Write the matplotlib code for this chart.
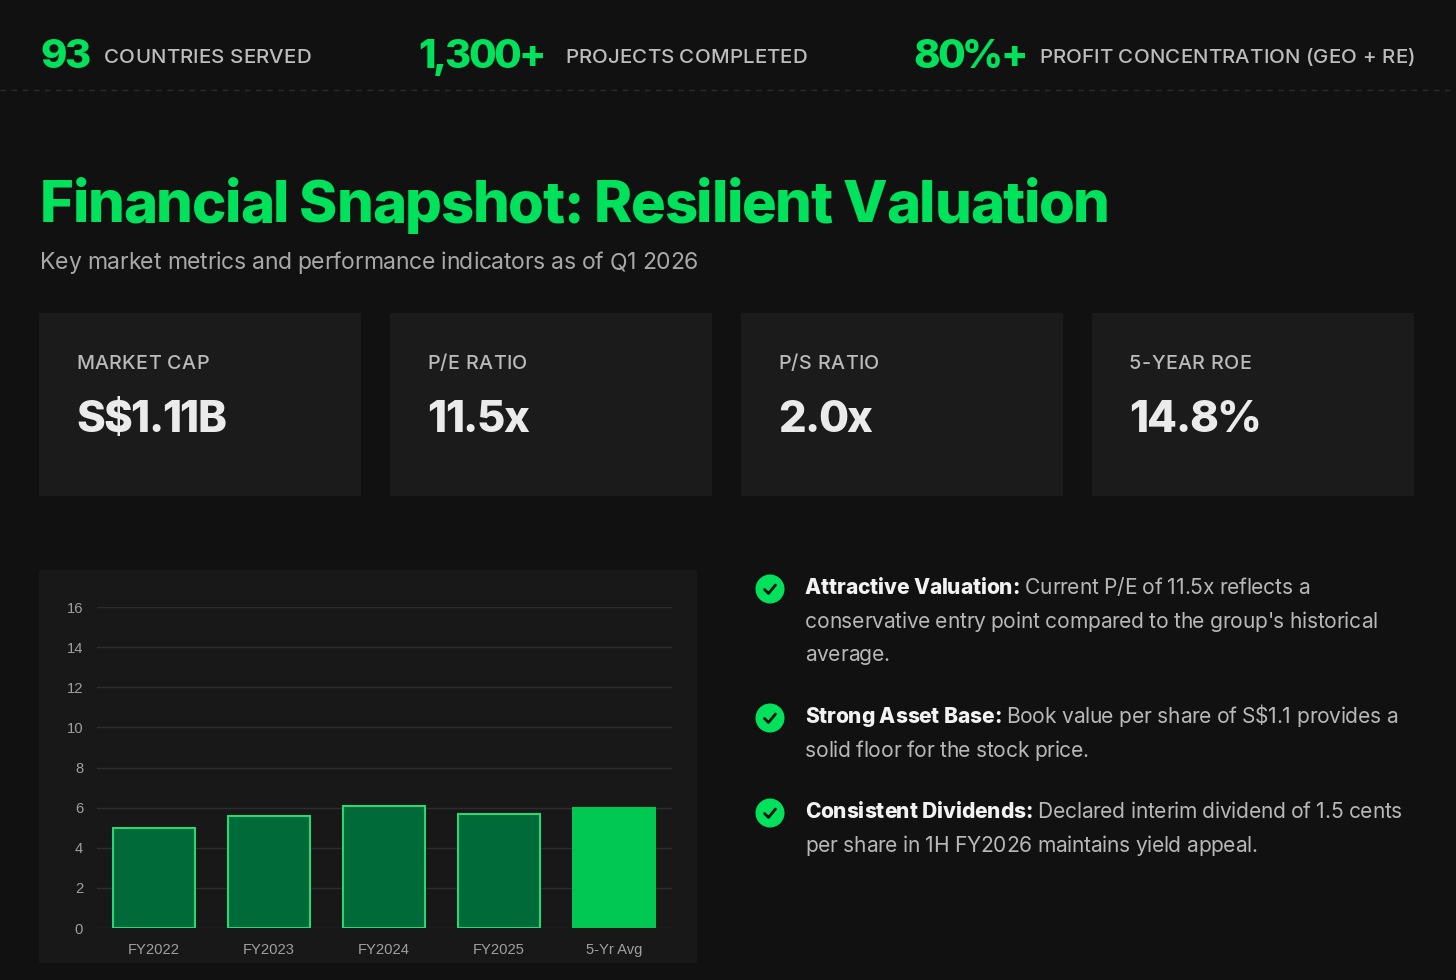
import matplotlib
matplotlib.use('Agg')
import matplotlib.pyplot as plt
from matplotlib.font_manager import findfont, FontProperties
from matplotlib.ft2font import FT2Font
from matplotlib.patches import Rectangle, Circle
from matplotlib.lines import Line2D

W, H, DPI = 1456, 980, 100

# ---- data ----
stat_values = ['93', '1,300+', '80%+']
stat_labels = ['COUNTRIES SERVED', 'PROJECTS COMPLETED', 'PROFIT CONCENTRATION (GEO + RE)']
title = 'Financial Snapshot: Resilient Valuation'
subtitle = 'Key market metrics and performance indicators as of Q1 2026'
card_labels = ['MARKET CAP', 'P/E RATIO', 'P/S RATIO', '5-YEAR ROE']
card_values = ['S$1.11B', '11.5x', '2.0x', '14.8%']
periods = ['FY2022', 'FY2023', 'FY2024', 'FY2025', '5-Yr Avg']
values = [5.0, 5.6, 6.1, 5.7, 6.0]
y_ticks = [0, 2, 4, 6, 8, 10, 12, 14, 16]
bullet_heads = ['Attractive Valuation:', 'Strong Asset Base:', 'Consistent Dividends:']
bullet_lines = [
    ['Current P/E of 11.5x reflects a',
     "conservative entry point compared to the group's historical",
     'average.'],
    ['Book value per share of S$1.1 provides a',
     'solid floor for the stock price.'],
    ['Declared interim dividend of 1.5 cents',
     'per share in 1H FY2026 maintains yield appeal.'],
]

# ---- colours ----
BG = '#111111'
GREEN = '#00e25b'
CARD = '#1b1b1b'
PANEL = '#181818'

fig = plt.figure(figsize=(W / DPI, H / DPI), dpi=DPI, facecolor=BG)
bg = fig.add_axes([0, 0, 1, 1], zorder=0)
bg.set_xlim(0, W)
bg.set_ylim(H, 0)
bg.axis('off')

_fonts = {}


def font_for(weight):
    if weight not in _fonts:
        _fonts[weight] = FT2Font(findfont(FontProperties(family='Inter', weight=weight)))
    return _fonts[weight]


def advance(s, size, weight):
    # width in pixels of s set at size px
    f = font_for(weight)
    f.set_size(size * 72 / DPI, DPI)
    return sum(f.load_char(ord(c)).linearHoriAdvance / 65536 for c in s)


def put(x, y, s, size, weight='normal', color='white', track=0.0):
    # baseline at y, starts at x, returns end x (pixels)
    pt = size * 72 / DPI
    kw = dict(fontsize=pt, fontweight=weight, family='Inter', color=color,
              va='baseline', ha='left')
    if track == 0:
        bg.text(x, y, s, **kw)
        return x + advance(s, size, weight)
    for c in s:
        if c != ' ':
            bg.text(x, y, c, **kw)
        x += advance(c, size, weight) + track
    return x - track


# top stats row
for x0, lx, v, lab in zip([40, 418, 913], [104, 565, 1039], stat_values, stat_labels):
    put(x0, 68, v, 40, 'heavy', GREEN, track=-2.6)
    put(lx, 63, lab, 20.5, 'medium', '#bdbdbd', track=0.1)
bg.add_line(Line2D([0, W], [90, 90], color='#2c2c2c', lw=1, linestyle=(0, (4, 4))))

# headline
put(40, 222, title, 58, 'heavy', GREEN, track=-1.3)
put(40, 269, subtitle, 23, 'normal', '#a8a8a8', track=-0.28)

# metric cards
for cx, lab, val in zip([39, 390, 741, 1092], card_labels, card_values):
    bg.add_patch(Rectangle((cx, 313), 322, 183, facecolor=CARD, edgecolor='none'))
    put(cx + 37, 369, lab, 19.7, 'medium', '#bbbbbb', track=0.4)
    put(cx + 37, 432, val, 43.6, 'heavy', '#ebebeb', track=-1.6)

# chart panel
bg.add_patch(Rectangle((39, 570), 658, 393, facecolor=PANEL, edgecolor='none'))

ax = fig.add_axes([96.5 / W, 1 - 928 / H, 575 / W, 321 / H], zorder=1)
ax.set_facecolor('none')
fills = ['#006b38'] * 4 + ['#00c853']
edges = ['#2ed573'] * 4 + ['#00c853']
ax.bar(range(len(periods)), values, width=0.71, color=fills, edgecolor=edges,
       linewidth=1.5, zorder=3)
ax.set_xlim(-0.5, len(periods) - 0.5)
ax.set_ylim(0, 16)
ax.set_yticks(y_ticks)
ax.set_xticks(range(len(periods)))
ax.set_xticklabels(periods)
ax.grid(axis='y', color='#2d2d2d', linewidth=1, zorder=0)
for sp in ax.spines.values():
    sp.set_visible(False)
ax.tick_params(axis='y', length=0, pad=9.7, labelsize=10.6, labelcolor='#a0a0a0')
ax.tick_params(axis='x', length=0, pad=10.5, labelsize=10.6, labelcolor='#a0a0a0')
for t in ax.get_xticklabels() + ax.get_yticklabels():
    t.set_family('Liberation Sans')

# bullet points
for first, head, lines in zip([594, 723, 818], bullet_heads, bullet_lines):
    cy = first - 5
    bg.add_patch(Circle((770, cy), 14.5, facecolor=GREEN, edgecolor='none'))
    bg.add_line(Line2D([770 - 5.5, 770 - 1.5, 770 + 5.5], [cy + 0.5, cy + 4.5, cy - 4],
                       color=BG, lw=2.0, solid_capstyle='round', solid_joinstyle='round'))
    for i, line in enumerate(lines):
        y = first + i * 33.7
        x = 805
        if i == 0:
            x = put(x, y, head, 21, 'heavy', '#f2f2f2', track=-0.15) + 5
        put(x, y, line, 21, 'normal', '#b8b8b8', track=-0.26)

fig.savefig('out.png', dpi=DPI, facecolor=BG)
